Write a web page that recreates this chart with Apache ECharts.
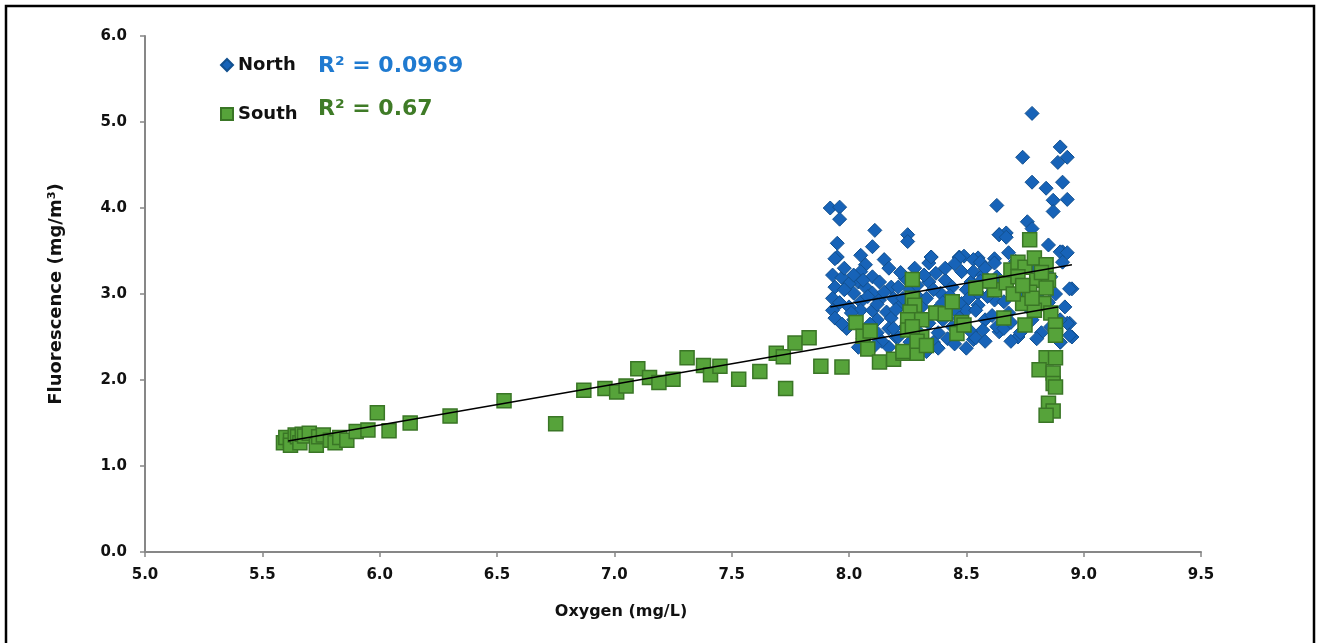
<!DOCTYPE html>
<html>
<head>
<meta charset="utf-8">
<script src="https://cdn.jsdelivr.net/npm/echarts@6/dist/echarts.min.js"></script>
<style>
  html, body { margin: 0; padding: 0; background: #fff; }
  #chart { width: 1321px; height: 643px; }
</style>
</head>
<body>
<div id="chart"></div>
<script>
// Oxygen (mg/L) vs fluorescence (mg/m³) samples, [oxygen, fluorescence]
const northData = [
  [7.92,4.00],[7.96,4.01],[7.96,3.87],[7.95,3.59],[7.95,3.43],[8.11,3.74],[8.10,3.55],[8.25,3.69],
  [8.35,3.43],[8.47,3.43],[8.78,5.10],[8.90,4.71],[8.74,4.59],[8.93,4.59],[8.89,4.53],[8.78,4.30],
  [8.91,4.30],[8.84,4.23],[8.93,4.10],[8.87,4.09],[8.87,3.96],[8.63,4.03],[8.76,3.84],[8.78,3.76],
  [8.64,3.69],[8.67,3.71],[8.85,3.57],[8.91,3.49],[8.49,3.44],[8.55,3.42],[8.62,3.41],
  [8.95,3.06],[8.94,2.66],[8.95,2.50],[8.90,2.44],[8.53,2.47],[8.64,2.56],[8.72,2.50],[8.62,2.93],
  [7.94,3.41],[8.07,3.34],[8.05,3.26],[7.93,3.22],[7.97,3.19],[8.04,3.14],[8.10,3.20],[8.13,3.14],
  [7.94,3.08],[8.07,3.08],[8.18,3.08],[7.93,2.95],[8.02,3.01],[8.10,3.01],[8.05,2.91],[8.13,2.93],
  [7.93,2.81],[8.00,2.85],[8.05,2.81],[8.10,2.81],[8.16,2.79],[7.94,2.72],[8.02,2.70],[8.12,2.70],
  [8.18,2.72],[8.17,2.60],[8.12,2.55],[8.20,2.50],[8.04,2.38],[8.17,2.38],
  [8.25,3.61],[8.34,3.36],[8.35,3.43],[8.47,3.42],[8.53,3.40],[8.37,3.24],[8.48,3.26],[8.41,3.16],
  [8.34,3.14],[8.52,3.14],[8.21,3.08],[8.44,3.08],[8.50,3.05],[8.39,3.01],[8.22,2.87],[8.48,2.89],
  [8.37,2.81],[8.50,2.81],[8.40,2.70],[8.34,2.66],[8.38,2.55],[8.52,2.56],[8.21,2.50],[8.36,2.44],
  [8.33,2.33],[8.38,2.37],[8.50,2.37],
  [8.64,3.69],[8.67,3.66],[8.90,3.49],[8.93,3.48],[8.56,3.37],[8.62,3.36],[8.68,3.48],[8.91,3.37],
  [8.53,3.26],[8.57,3.22],[8.94,3.06],[8.55,3.01],[8.59,2.97],[8.66,2.91],[8.55,2.87],[8.54,2.81],
  [8.93,2.66],[8.63,2.62],[8.66,2.60],[8.73,2.55],[8.69,2.67],[8.94,2.52],[8.90,2.44],[8.54,2.49],
  [8.80,3.30],[8.86,3.20],[8.70,3.25],[8.78,2.70],[8.82,2.55],[8.28,3.30],[8.24,3.18],[8.30,2.95],
  [8.44,2.62],[8.58,2.70],[8.68,2.78],[8.26,2.44],[8.45,3.35],[8.15,3.40],[8.00,3.12],[8.14,2.45],
  [7.98,3.30],[8.02,3.22],[8.06,3.16],[8.08,2.97],[8.12,2.88],[8.15,3.02],[8.19,2.95],[8.20,2.82],
  [8.23,2.95],[8.26,3.05],[8.29,3.10],[8.31,2.85],[8.33,2.95],[8.36,3.05],[8.40,2.90],[8.43,2.98],
  [8.45,2.82],[8.47,2.72],[8.42,2.48],[8.30,2.55],[8.24,2.62],[8.19,2.60],[8.09,2.65],[8.06,2.48],
  [7.99,2.60],[7.96,2.90],[7.98,3.05],[8.01,2.78],[8.58,3.30],[8.60,3.10],[8.63,3.20],[8.71,3.38],
  [8.73,3.00],[8.76,2.85],[8.81,2.95],[8.85,2.90],[8.88,3.00],[8.92,2.85],[8.90,2.70],[8.86,2.62],
  [8.57,2.58],[8.61,2.75],[8.51,2.95],[8.56,3.15],[8.22,3.25],[8.32,3.22],[8.41,3.30],[8.17,3.30],
  [8.05,3.45],[7.97,2.65],[8.11,2.40],[8.29,2.40],[8.45,2.42],[8.58,2.45],[8.69,2.45],[8.80,2.48]
];
const southData = [
  [5.59,1.27],[5.60,1.33],[5.62,1.30],[5.62,1.24],[5.64,1.36],[5.65,1.34],[5.66,1.27],[5.67,1.37],
  [5.68,1.35],[5.70,1.38],[5.73,1.24],[5.74,1.34],[5.76,1.36],[5.79,1.30],[5.81,1.27],[5.83,1.33],
  [5.86,1.30],[5.90,1.40],[5.95,1.42],[5.99,1.62],[6.04,1.41],[6.13,1.50],[6.30,1.58],[6.53,1.76],
  [6.75,1.49],[6.87,1.88],[6.96,1.90],[7.01,1.86],[7.05,1.93],[7.10,2.13],[7.15,2.03],[7.19,1.97],
  [7.25,2.01],[7.31,2.26],[7.38,2.17],[7.41,2.06],[7.45,2.16],[7.53,2.01],[7.62,2.10],[7.69,2.31],
  [7.72,2.27],[7.73,1.90],[7.77,2.43],[7.83,2.49],[7.88,2.16],[7.97,2.15],
  [8.03,2.67],[8.06,2.51],[8.09,2.57],[8.08,2.36],[8.13,2.21],[8.19,2.24],[8.23,2.31],[8.29,2.31],
  [8.27,3.17],[8.27,2.95],[8.28,2.87],[8.26,2.79],[8.25,2.70],[8.31,2.70],[8.37,2.78],[8.41,2.77],
  [8.44,2.91],[8.25,2.58],[8.31,2.50],[8.48,2.67],[8.46,2.54],[8.23,2.33],[8.27,2.62],[8.29,2.45],
  [8.33,2.40],[8.49,2.64],[8.54,3.07],[8.62,3.05],[8.67,3.13],[8.69,3.28],[8.72,3.37],[8.75,3.31],
  [8.77,3.63],[8.79,3.42],[8.84,3.34],[8.80,3.16],[8.85,3.16],[8.77,3.02],[8.84,3.07],[8.74,2.89],
  [8.83,2.89],[8.86,2.78],[8.79,2.81],[8.75,2.64],[8.88,2.64],[8.88,2.52],[8.84,2.26],[8.88,2.26],
  [8.81,2.12],[8.87,2.08],[8.87,1.96],[8.88,1.92],[8.85,1.73],[8.87,1.64],[8.84,1.59],[8.72,3.20],
  [8.70,3.00],[8.66,2.72],[8.60,3.15],[8.78,2.95],[8.82,3.25],[8.74,3.10]
];
// Linear trend lines (end points) and their R² values
const northTrend = [[7.92,2.85],[8.95,3.34]];
const southTrend = [[5.61,1.29],[8.89,2.85]];
const northR2 = 'R² = 0.0969';
const southR2 = 'R² = 0.67';
const seriesNames = ['North', 'South'];
const xTicks = { min: 5, max: 9.5, step: 0.5 };
const yTicks = { min: 0, max: 6, step: 1 };

const FONT = '"DejaVu Sans", Verdana, sans-serif';
const AXIS_GREY = '#878787';

const chart = echarts.init(document.getElementById('chart'), null, { renderer: 'canvas' });

chart.setOption({
  animation: false,
  backgroundColor: '#fff',
  textStyle: { fontFamily: FONT },
  grid: { left: 145, right: 120, top: 36, bottom: 91 },
  xAxis: {
    type: 'value', min: xTicks.min, max: xTicks.max, interval: xTicks.step,
    name: 'Oxygen (mg/L)', nameLocation: 'middle', nameGap: 52,
    nameTextStyle: { fontFamily: FONT, fontWeight: 'bold', fontSize: 16, color: '#111',
      padding: [0, 104, 0, 0] },
    axisLine: { onZero: false, lineStyle: { color: AXIS_GREY, width: 2 } },
    axisTick: { show: true, length: 5, lineStyle: { color: AXIS_GREY, width: 1.5 } },
    axisLabel: { margin: 16, fontFamily: FONT, fontWeight: 'bold', fontSize: 15, color: '#111',
      formatter: v => v.toFixed(1) },
    splitLine: { show: false }
  },
  yAxis: {
    type: 'value', min: yTicks.min, max: yTicks.max, interval: yTicks.step,
    name: 'Fluorescence (mg/m³)', nameLocation: 'middle', nameGap: 80, nameRotate: 90,
    nameTextStyle: { fontFamily: FONT, fontWeight: 'bold', fontSize: 18, color: '#111' },
    axisLine: { show: true, onZero: false, lineStyle: { color: AXIS_GREY, width: 2 } },
    axisTick: { show: true, length: 5, lineStyle: { color: AXIS_GREY, width: 1.5 } },
    axisLabel: { margin: 18, fontFamily: FONT, fontWeight: 'bold', fontSize: 15, color: '#111',
      formatter: v => v.toFixed(1) },
    splitLine: { show: false }
  },
  legend: {
    data: seriesNames,
    orient: 'vertical', left: 215, top: 51, itemGap: 31,
    itemWidth: 12, itemHeight: 12,
    textStyle: { fontFamily: FONT, fontWeight: 'bold', fontSize: 18, color: '#111' }
  },
  graphic: [
    { type: 'rect', z: -10, silent: true,
      shape: { x: 6, y: 6, width: 1308, height: 700 },
      style: { fill: 'none', stroke: '#000', lineWidth: 2.5 } },
    { type: 'text', left: 318, top: 55, silent: true,
      style: { text: northR2, fill: '#1f7ad0', font: 'bold 22px ' + FONT } },
    { type: 'text', left: 318, top: 98, silent: true,
      style: { text: southR2, fill: '#3f7b27', font: 'bold 22px ' + FONT } }
  ],
  series: [
    {
      name: 'North', type: 'scatter', data: northData, symbol: 'diamond', symbolSize: 14, z: 2,
      itemStyle: { color: '#1763b8', borderColor: '#12508f', borderWidth: 1, opacity: 1 }
    },
    {
      name: 'South', type: 'scatter', data: southData, symbol: 'rect', symbolSize: 14, z: 3,
      itemStyle: { color: '#56a33a', borderColor: '#3a7626', borderWidth: 1.5, opacity: 1 }
    },
    {
      name: 'North trend', type: 'line', data: northTrend, symbol: 'none', z: 5, silent: true,
      lineStyle: { color: '#000', width: 1.5 }
    },
    {
      name: 'South trend', type: 'line', data: southTrend, symbol: 'none', z: 5, silent: true,
      lineStyle: { color: '#000', width: 1.5 }
    }
  ]
});
</script>
</body>
</html>
